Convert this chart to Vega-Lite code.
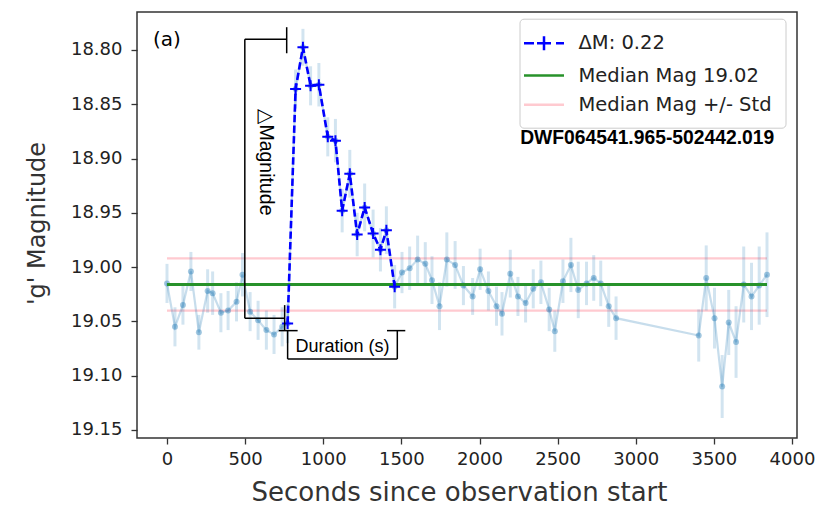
{
  "$schema": "https://vega.github.io/schema/vega-lite/v6.json",
  "width": 660,
  "height": 426,
  "autosize": {"type": "none"},
  "padding": {"left": 137, "top": 12, "right": 21, "bottom": 71},
  "background": "white",
  "config": {
    "view": {"stroke": "#333333", "strokeWidth": 1.5},
    "axis": {
      "domain": false, "grid": false, "tickColor": "#333333", "tickSize": 6, "tickWidth": 1.3,
      "labelFont": "DejaVu Sans", "labelFontSize": 18, "labelColor": "#222222",
      "titleFont": "DejaVu Sans", "titleColor": "#333333", "titleFontWeight": "normal",
      "labelOverlap": false, "labelFlush": false
    }
  },
  "datasets": {
    "obs": [
      {"t":0,"m":19.015,"e":0.018},{"t":51,"m":19.055,"e":0.018},{"t":102,"m":19.035,"e":0.018},
      {"t":153,"m":19.004,"e":0.018},{"t":204,"m":19.060,"e":0.016},{"t":260,"m":19.022,"e":0.02},
      {"t":292,"m":19.024,"e":0.02},{"t":345,"m":19.042,"e":0.018},{"t":391,"m":19.040,"e":0.018},
      {"t":445,"m":19.032,"e":0.018},{"t":483,"m":19.007,"e":0.02},{"t":532,"m":19.041,"e":0.018},
      {"t":583,"m":19.049,"e":0.018},{"t":636,"m":19.058,"e":0.018},{"t":685,"m":19.062,"e":0.018},
      {"t":737,"m":19.055,"e":0.018},{"t":772,"m":19.052,"e":0.018},{"t":823,"m":18.836,"e":0.018},
      {"t":870,"m":18.7975,"e":0.017},{"t":919,"m":18.833,"e":0.018},{"t":972,"m":18.832,"e":0.02},
      {"t":1029,"m":18.880,"e":0.018},{"t":1078,"m":18.8835,"e":0.02},{"t":1121,"m":18.948,"e":0.02},
      {"t":1170,"m":18.914,"e":0.022},{"t":1217,"m":18.970,"e":0.02},{"t":1265,"m":18.945,"e":0.022},
      {"t":1319,"m":18.969,"e":0.022},{"t":1366,"m":18.984,"e":0.02},{"t":1404,"m":18.966,"e":0.022},
      {"t":1457,"m":19.018,"e":0.02},{"t":1504,"m":19.005,"e":0.019},{"t":1553,"m":19.001,"e":0.02},
      {"t":1604,"m":18.993,"e":0.022},{"t":1653,"m":18.997,"e":0.02},{"t":1696,"m":19.012,"e":0.022},
      {"t":1744,"m":19.036,"e":0.022},{"t":1791,"m":18.993,"e":0.025},{"t":1844,"m":18.998,"e":0.022},
      {"t":1897,"m":19.017,"e":0.018},{"t":1956,"m":19.027,"e":0.017},{"t":2004,"m":19.002,"e":0.019},
      {"t":2057,"m":19.022,"e":0.018},{"t":2109,"m":19.036,"e":0.018},{"t":2144,"m":19.043,"e":0.02},
      {"t":2197,"m":19.006,"e":0.022},{"t":2246,"m":19.027,"e":0.018},{"t":2295,"m":19.033,"e":0.018},
      {"t":2344,"m":19.020,"e":0.018},{"t":2393,"m":19.014,"e":0.02},{"t":2446,"m":19.039,"e":0.02},
      {"t":2482,"m":19.059,"e":0.019},{"t":2534,"m":19.013,"e":0.02},{"t":2585,"m":18.998,"e":0.025},
      {"t":2632,"m":19.021,"e":0.026},{"t":2685,"m":19.015,"e":0.02},{"t":2731,"m":19.010,"e":0.021},
      {"t":2776,"m":19.015,"e":0.021},{"t":2827,"m":19.036,"e":0.019},{"t":2874,"m":19.047,"e":0.02},
      {"t":3403,"m":19.063,"e":0.024},{"t":3451,"m":19.010,"e":0.03},{"t":3504,"m":19.047,"e":0.028},
      {"t":3553,"m":19.110,"e":0.029},{"t":3595,"m":19.051,"e":0.03},{"t":3642,"m":19.069,"e":0.033},
      {"t":3691,"m":19.016,"e":0.035},{"t":3741,"m":19.027,"e":0.031},{"t":3790,"m":19.017,"e":0.036},
      {"t":3840,"m":19.007,"e":0.039}
    ],
    "brackets": [
      {"t":498,"t2":498,"m":18.790,"m2":19.047},
      {"t":498,"t2":766,"m":18.790,"m2":18.790},
      {"t":766,"t2":766,"m":18.779,"m2":18.803},
      {"t":498,"t2":753,"m":19.047,"m2":19.047},
      {"t":753,"t2":753,"m":19.035,"m2":19.058},
      {"t":715,"t2":836,"m":19.0585,"m2":19.0585},
      {"t":772,"t2":772,"m":19.0585,"m2":19.0846},
      {"t":772,"t2":1474,"m":19.0846,"m2":19.0846},
      {"t":1474,"t2":1474,"m":19.0585,"m2":19.0846},
      {"t":1408,"t2":1525,"m":19.0585,"m2":19.0585}
    ]
  },
  "layer": [
    {
      "data": {"values": [{"t":0,"t2":3840,"m":18.992},{"t":0,"t2":3840,"m":19.040}]},
      "mark": {"type": "rule", "strokeWidth": 2.3},
      "encoding": {
        "x": {"field": "t", "type": "quantitative",
              "scale": {"domain": [-192, 4032], "nice": false, "zero": false},
              "axis": {"values": [0,500,1000,1500,2000,2500,3000,3500,4000], "format": "d", "labelPadding": 6,
                       "title": "Seconds since observation start", "titleFontSize": 26,
                       "titleX": 322, "titleY": 62, "titleBaseline": "alphabetic"}},
        "x2": {"field": "t2"},
        "y": {"field": "m", "type": "quantitative",
              "scale": {"domain": [18.765, 19.1574], "reverse": true, "nice": false, "zero": false},
              "axis": {"values": [18.8,18.85,18.9,18.95,19.0,19.05,19.1,19.15], "format": ".2f", "labelPadding": 9,
                       "title": "'g' Magnitude", "titleFontSize": 24, "titleAngle": 270,
                       "titleX": -93, "titleY": 211, "titleBaseline": "alphabetic"}},
        "color": {"datum": "Median Mag +/- Std", "type": "nominal",
                  "scale": {"domain": ["ΔM: 0.22", "Median Mag 19.02", "Median Mag +/- Std"],
                            "range": ["#0000ff", "#27922a", "#ffcad0"]},
                  "legend": {
                    "orient": "none", "legendX": 382.5, "legendY": 6.7, "title": null,
                    "symbolType": "M-2,0L2,0", "symbolSize": 400, "symbolStrokeWidth": 2.5,
                    "labelFont": "DejaVu Sans", "labelFontSize": 19.5, "labelColor": "#222222",
                    "labelLimit": 400, "labelOffset": 23, "rowPadding": 8.3, "padding": 13,
                    "strokeColor": "#cccccc", "fillColor": "rgba(255,255,255,0.8)", "cornerRadius": 4,
                    "encode": {"symbols": {"update": {
                      "shape": {"signal": "datum.value === 'ΔM: 0.22' ? 'M-2,0L-1,0M-0.7,0L0.7,0M0,-0.7L0,0.7M1.2,0L2,0' : 'M-2,0L2,0'"},
                      "stroke": {"scale": "color", "field": "value"},
                      "fill": {"value": "transparent"}
                    }}}
                  }}
      }
    },
    {
      "data": {"name": "obs"},
      "mark": {"type": "errorbar", "rule": {"strokeWidth": 3, "color": "#1f77b4", "opacity": 0.2}},
      "encoding": {
        "x": {"field": "t", "type": "quantitative", "title": "Seconds since observation start"},
        "y": {"field": "m", "type": "quantitative", "title": "'g' Magnitude"},
        "yError": {"field": "e"}
      }
    },
    {
      "data": {"name": "obs"},
      "mark": {"type": "line", "color": "#1f77b4", "opacity": 0.25, "strokeWidth": 2.2},
      "encoding": {
        "x": {"field": "t", "type": "quantitative"},
        "y": {"field": "m", "type": "quantitative"}
      }
    },
    {
      "data": {"name": "obs"},
      "mark": {"type": "point", "shape": "circle", "filled": true, "color": "#1f77b4", "opacity": 0.4, "size": 36},
      "encoding": {
        "x": {"field": "t", "type": "quantitative"},
        "y": {"field": "m", "type": "quantitative"}
      }
    },
    {
      "data": {"values": [{"t":0,"t2":3840,"m":19.016}]},
      "mark": {"type": "rule", "strokeWidth": 3},
      "encoding": {
        "x": {"field": "t", "type": "quantitative"},
        "x2": {"field": "t2"},
        "y": {"field": "m", "type": "quantitative"},
        "color": {"datum": "Median Mag 19.02", "type": "nominal"}
      }
    },
    {
      "data": {"name": "obs"},
      "transform": [{"filter": "datum.t >= 772 && datum.t <= 1457"}],
      "mark": {"type": "line", "strokeWidth": 2.6, "strokeDash": [7.4, 3.2]},
      "encoding": {
        "x": {"field": "t", "type": "quantitative"},
        "y": {"field": "m", "type": "quantitative"},
        "color": {"datum": "ΔM: 0.22", "type": "nominal"}
      }
    },
    {
      "data": {"name": "obs"},
      "transform": [{"filter": "datum.t >= 772 && datum.t <= 1457"}],
      "mark": {"type": "point", "shape": "M-1,0L1,0M0,-1L0,1", "filled": false, "size": 121, "strokeWidth": 2, "opacity": 1},
      "encoding": {
        "x": {"field": "t", "type": "quantitative"},
        "y": {"field": "m", "type": "quantitative"},
        "color": {"datum": "ΔM: 0.22", "type": "nominal"}
      }
    },
    {
      "data": {"name": "brackets"},
      "mark": {"type": "rule", "color": "black", "strokeWidth": 1.5},
      "encoding": {
        "x": {"field": "t", "type": "quantitative"},
        "x2": {"field": "t2"},
        "y": {"field": "m", "type": "quantitative"},
        "y2": {"field": "m2"}
      }
    },
    {
      "data": {"values": [{"t":632,"m":18.9036,"label":"△Magnitude"}]},
      "mark": {"type": "text", "angle": 90, "font": "Liberation Sans", "fontSize": 19.5, "color": "black", "align": "center", "baseline": "middle"},
      "encoding": {
        "x": {"field": "t", "type": "quantitative"},
        "y": {"field": "m", "type": "quantitative"},
        "text": {"field": "label"}
      }
    },
    {
      "data": {"values": [{"t":1123,"m":19.0733,"label":"Duration (s)"}]},
      "mark": {"type": "text", "font": "Liberation Sans", "fontSize": 18, "color": "black", "align": "center", "baseline": "middle"},
      "encoding": {
        "x": {"field": "t", "type": "quantitative"},
        "y": {"field": "m", "type": "quantitative"},
        "text": {"field": "label"}
      }
    },
    {
      "data": {"values": [{"t":0,"m":18.7908,"label":"(a)"}]},
      "mark": {"type": "text", "font": "DejaVu Sans", "fontSize": 20, "color": "black", "align": "center", "baseline": "middle"},
      "encoding": {
        "x": {"field": "t", "type": "quantitative"},
        "y": {"field": "m", "type": "quantitative"},
        "text": {"field": "label"}
      }
    },
    {
      "data": {"values": [{"t":3073,"m":18.881,"label":"DWF064541.965-502442.019"}]},
      "mark": {"type": "text", "font": "Liberation Sans", "fontSize": 19.3, "fontWeight": "bold", "color": "black", "align": "center", "baseline": "middle"},
      "encoding": {
        "x": {"field": "t", "type": "quantitative"},
        "y": {"field": "m", "type": "quantitative"},
        "text": {"field": "label"}
      }
    }
  ]
}
